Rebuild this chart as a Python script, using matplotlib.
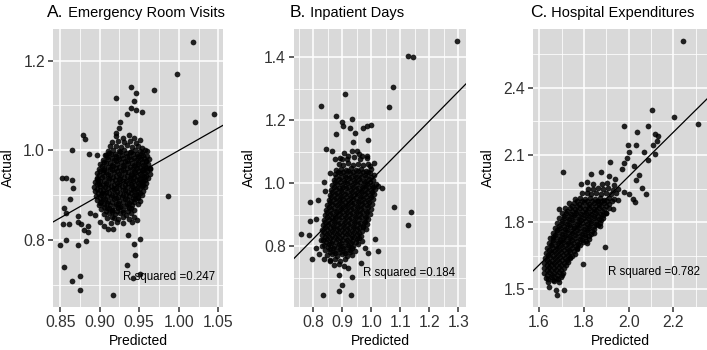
import matplotlib
import matplotlib.pyplot as plt
import numpy as np
from matplotlib.ticker import MultipleLocator, FormatStrFormatter

matplotlib.use('agg')
plt.rcParams['font.family'] = ['Liberation Sans', 'DejaVu Sans']

# (predicted, actual) pairs
er_points = [
    (1.018, 1.242), (0.998, 1.171), (0.969, 1.134), (0.939, 1.141), (0.946, 1.127),
    (0.943, 1.110), (0.921, 1.117), (0.940, 1.095), (0.946, 1.091), (0.953, 1.086),
    (1.045, 1.082), (1.020, 1.063), (0.987, 0.898), (0.879, 1.035), (0.882, 1.026),
    (0.865, 1.000), (0.887, 0.992), (0.896, 0.990), (0.908, 0.989), (0.852, 0.938),
    (0.858, 0.938), (0.865, 0.935), (0.866, 0.916), (0.863, 0.891), (0.855, 0.872),
    (0.858, 0.861), (0.853, 0.837), (0.861, 0.837), (0.872, 0.855), (0.873, 0.842),
    (0.877, 0.837), (0.885, 0.831), (0.880, 0.824), (0.885, 0.819), (0.888, 0.861),
    (0.894, 0.857), (0.901, 0.840), (0.896, 0.937), (0.850, 0.790), (0.857, 0.800),
    (0.872, 0.790), (0.883, 0.798), (0.855, 0.741), (0.865, 0.709), (0.875, 0.720),
    (0.875, 0.689), (0.917, 0.678), (0.934, 0.746), (0.945, 0.768), (0.944, 0.792),
    (0.951, 0.803), (0.936, 0.811), (0.951, 0.725), (0.942, 0.716), (0.910, 0.825),
    (0.917, 0.825), (0.905, 0.831), (0.941, 0.840), (0.947, 0.846), (0.926, 1.063),
    (0.925, 1.050), (0.920, 1.039), (0.934, 1.080), (0.960, 0.998), (0.964, 0.961),
    (0.955, 0.931), (0.944, 0.853), (0.918, 0.850), (0.915, 0.868), (0.901, 0.883),
    (0.903, 0.905), (0.899, 0.926), (0.905, 0.957),
    (0.921, 1.032), (0.929, 1.028), (0.937, 1.034), (0.944, 1.027),
    (0.916, 1.019), (0.923, 1.022), (0.931, 1.018), (0.938, 1.021), (0.946, 1.017), (0.951, 1.023),
    (0.913, 1.009), (0.920, 1.011), (0.927, 1.007), (0.934, 1.012), (0.941, 1.008), (0.948, 1.010),
    (0.954, 1.006),
    (0.910, 0.999), (0.917, 1.002), (0.924, 0.998), (0.931, 1.001), (0.938, 0.997), (0.945, 1.002),
    (0.951, 0.998), (0.957, 1.001),
    (0.907, 0.989), (0.914, 0.992), (0.921, 0.988), (0.928, 0.991), (0.935, 0.987), (0.942, 0.992),
    (0.948, 0.988), (0.955, 0.990), (0.960, 0.987),
    (0.904, 0.979), (0.911, 0.982), (0.918, 0.978), (0.925, 0.981), (0.932, 0.977), (0.939, 0.982),
    (0.946, 0.978), (0.952, 0.981), (0.958, 0.977), (0.962, 0.982),
    (0.901, 0.969), (0.908, 0.972), (0.915, 0.968), (0.922, 0.971), (0.929, 0.967), (0.936, 0.972),
    (0.943, 0.968), (0.949, 0.971), (0.955, 0.967), (0.961, 0.970),
    (0.899, 0.959), (0.906, 0.962), (0.913, 0.958), (0.920, 0.961), (0.927, 0.957), (0.934, 0.962),
    (0.941, 0.958), (0.947, 0.961), (0.953, 0.957), (0.959, 0.960), (0.964, 0.958),
    (0.897, 0.949), (0.904, 0.952), (0.911, 0.948), (0.918, 0.951), (0.925, 0.947), (0.932, 0.952),
    (0.939, 0.948), (0.945, 0.951), (0.951, 0.947), (0.957, 0.950), (0.963, 0.948),
    (0.896, 0.939), (0.903, 0.942), (0.910, 0.938), (0.917, 0.941), (0.924, 0.937), (0.931, 0.942),
    (0.938, 0.938), (0.944, 0.941), (0.950, 0.937), (0.956, 0.940), (0.961, 0.938),
    (0.894, 0.929), (0.901, 0.932), (0.908, 0.928), (0.915, 0.931), (0.922, 0.927), (0.929, 0.932),
    (0.936, 0.928), (0.942, 0.931), (0.948, 0.927), (0.954, 0.930), (0.959, 0.928),
    (0.893, 0.919), (0.900, 0.922), (0.907, 0.918), (0.914, 0.921), (0.921, 0.917), (0.928, 0.922),
    (0.935, 0.918), (0.941, 0.921), (0.947, 0.917), (0.953, 0.920), (0.957, 0.918),
    (0.894, 0.909), (0.901, 0.912), (0.908, 0.908), (0.915, 0.911), (0.922, 0.907), (0.929, 0.912),
    (0.936, 0.908), (0.942, 0.911), (0.948, 0.907), (0.955, 0.910),
    (0.895, 0.899), (0.902, 0.902), (0.909, 0.898), (0.916, 0.901), (0.923, 0.897), (0.930, 0.902),
    (0.937, 0.898), (0.943, 0.901), (0.949, 0.897), (0.954, 0.900),
    (0.897, 0.889), (0.904, 0.892), (0.911, 0.888), (0.918, 0.891), (0.925, 0.887), (0.932, 0.892),
    (0.939, 0.888), (0.945, 0.891), (0.951, 0.887),
    (0.899, 0.879), (0.906, 0.882), (0.913, 0.878), (0.920, 0.881), (0.927, 0.877), (0.934, 0.882),
    (0.941, 0.878), (0.948, 0.880),
    (0.902, 0.869), (0.909, 0.872), (0.916, 0.868), (0.923, 0.871), (0.930, 0.867), (0.937, 0.872),
    (0.944, 0.868),
    (0.905, 0.859), (0.912, 0.862), (0.919, 0.858), (0.926, 0.861), (0.933, 0.857), (0.940, 0.862),
    (0.909, 0.849), (0.916, 0.852), (0.923, 0.848), (0.930, 0.851), (0.937, 0.847),
    (0.914, 0.839), (0.922, 0.842), (0.929, 0.838),
]

# extra points filling the dense middle of panel A
er_dense = [
    (0.912, 0.995), (0.919, 0.993), (0.926, 0.996), (0.933, 0.994), (0.940, 0.996), (0.947, 0.993),
    (0.953, 0.995),
    (0.909, 0.985), (0.916, 0.983), (0.923, 0.986), (0.930, 0.984), (0.937, 0.986), (0.944, 0.983),
    (0.950, 0.985), (0.956, 0.984),
    (0.906, 0.975), (0.913, 0.973), (0.920, 0.976), (0.927, 0.974), (0.934, 0.976), (0.941, 0.973),
    (0.948, 0.975), (0.954, 0.974), (0.959, 0.976),
    (0.903, 0.965), (0.910, 0.963), (0.917, 0.966), (0.924, 0.964), (0.931, 0.966), (0.938, 0.963),
    (0.945, 0.965), (0.951, 0.964), (0.957, 0.966),
    (0.901, 0.955), (0.908, 0.953), (0.915, 0.956), (0.922, 0.954), (0.929, 0.956), (0.936, 0.953),
    (0.943, 0.955), (0.949, 0.954), (0.955, 0.956), (0.960, 0.954),
    (0.899, 0.945), (0.906, 0.943), (0.913, 0.946), (0.920, 0.944), (0.927, 0.946), (0.934, 0.943),
    (0.941, 0.945), (0.947, 0.944), (0.953, 0.946), (0.959, 0.944),
    (0.898, 0.935), (0.905, 0.933), (0.912, 0.936), (0.919, 0.934), (0.926, 0.936), (0.933, 0.933),
    (0.940, 0.935), (0.946, 0.934), (0.952, 0.936), (0.957, 0.934),
    (0.897, 0.925), (0.904, 0.923), (0.911, 0.926), (0.918, 0.924), (0.925, 0.926), (0.932, 0.923),
    (0.939, 0.925), (0.945, 0.924), (0.951, 0.926), (0.955, 0.924),
    (0.897, 0.915), (0.904, 0.913), (0.911, 0.916), (0.918, 0.914), (0.925, 0.916), (0.932, 0.913),
    (0.939, 0.915), (0.945, 0.914), (0.951, 0.916),
    (0.898, 0.905), (0.905, 0.903), (0.912, 0.906), (0.919, 0.904), (0.926, 0.906), (0.933, 0.903),
    (0.940, 0.905), (0.946, 0.904), (0.951, 0.906),
    (0.900, 0.895), (0.907, 0.893), (0.914, 0.896), (0.921, 0.894), (0.928, 0.896), (0.935, 0.893),
    (0.942, 0.895), (0.948, 0.894),
    (0.902, 0.885), (0.909, 0.883), (0.916, 0.886), (0.923, 0.884), (0.930, 0.886), (0.937, 0.883),
    (0.944, 0.885),
    (0.905, 0.875), (0.912, 0.873), (0.919, 0.876), (0.926, 0.874), (0.933, 0.876), (0.940, 0.873),
    (0.908, 0.865), (0.915, 0.863), (0.922, 0.866), (0.929, 0.864), (0.936, 0.866),
]

ip_points = [
    (1.294, 1.451), (1.125, 1.405), (1.145, 1.402), (1.076, 1.306), (1.062, 1.243),
    (0.826, 1.246), (0.909, 1.285), (0.880, 1.214), (0.900, 1.195), (0.934, 1.203),
    (0.903, 1.182), (0.926, 1.177), (0.877, 1.156), (0.984, 1.182), (0.999, 1.187),
    (0.972, 1.177), (0.944, 1.161), (0.936, 1.131), (0.987, 1.138), (0.844, 1.110),
    (0.863, 1.103), (1.079, 0.925), (1.137, 0.909), (1.125, 0.867), (1.024, 0.787),
    (0.757, 0.840), (0.786, 0.837), (0.790, 0.880), (0.809, 0.887), (0.789, 0.940),
    (0.815, 0.949), (0.838, 1.004), (0.794, 0.760), (0.820, 0.777), (0.838, 0.761),
    (0.857, 0.754), (0.834, 0.646), (0.889, 0.660), (0.930, 0.646), (0.900, 0.678),
    (0.889, 0.710), (0.932, 0.704), (0.921, 0.731), (0.964, 0.749), (0.990, 0.779),
    (0.978, 0.795), (1.013, 0.823), (1.024, 0.991), (1.036, 0.986), (0.995, 1.055),
    (1.010, 1.065), (0.967, 1.087), (0.984, 1.087), (0.949, 1.103), (0.921, 1.087),
    (0.898, 1.076), (0.875, 1.076), (0.859, 1.034), (0.840, 0.975), (0.826, 0.821),
    (0.811, 0.795), (0.831, 0.800),
    (0.905, 1.098), (0.932, 1.104), (0.958, 1.095),
    (0.893, 1.082), (0.915, 1.078), (0.940, 1.084), (0.962, 1.077), (0.985, 1.081),
    (0.887, 1.061), (0.904, 1.058), (0.921, 1.064), (0.938, 1.057), (0.955, 1.062), (0.972, 1.058),
    (0.990, 1.063),
    (0.880, 1.044), (0.897, 1.047), (0.914, 1.042), (0.931, 1.048), (0.948, 1.043), (0.965, 1.046),
    (0.982, 1.041), (0.999, 1.046),
    (0.876, 1.029), (0.893, 1.032), (0.910, 1.027), (0.927, 1.033), (0.944, 1.028), (0.961, 1.031),
    (0.978, 1.026), (0.995, 1.032), (1.008, 1.027),
    (0.872, 1.012), (0.889, 1.015), (0.906, 1.010), (0.923, 1.016), (0.940, 1.011), (0.957, 1.014),
    (0.974, 1.009), (0.991, 1.015), (1.006, 1.011),
    (0.866, 0.996), (0.883, 0.999), (0.900, 0.994), (0.917, 1.000), (0.934, 0.995), (0.951, 0.998),
    (0.968, 0.993), (0.985, 0.999), (1.002, 0.994), (1.015, 0.998),
    (0.862, 0.980), (0.879, 0.983), (0.896, 0.978), (0.913, 0.984), (0.930, 0.979), (0.947, 0.982),
    (0.964, 0.977), (0.981, 0.983), (0.998, 0.978), (1.012, 0.982),
    (0.858, 0.964), (0.875, 0.967), (0.892, 0.962), (0.909, 0.968), (0.926, 0.963), (0.943, 0.966),
    (0.960, 0.961), (0.977, 0.967), (0.994, 0.962), (1.010, 0.966),
    (0.853, 0.948), (0.870, 0.951), (0.887, 0.946), (0.904, 0.952), (0.921, 0.947), (0.938, 0.950),
    (0.955, 0.945), (0.972, 0.951), (0.989, 0.946), (1.006, 0.950),
    (0.849, 0.932), (0.866, 0.935), (0.883, 0.930), (0.900, 0.936), (0.917, 0.931), (0.934, 0.934),
    (0.951, 0.929), (0.968, 0.935), (0.985, 0.930), (1.002, 0.934),
    (0.845, 0.916), (0.862, 0.919), (0.879, 0.914), (0.896, 0.920), (0.913, 0.915), (0.930, 0.918),
    (0.947, 0.913), (0.964, 0.919), (0.981, 0.914), (0.998, 0.918),
    (0.841, 0.900), (0.858, 0.903), (0.875, 0.898), (0.892, 0.904), (0.909, 0.899), (0.926, 0.902),
    (0.943, 0.897), (0.960, 0.903), (0.977, 0.898), (0.994, 0.902),
    (0.838, 0.884), (0.855, 0.887), (0.872, 0.882), (0.889, 0.888), (0.906, 0.883), (0.923, 0.886),
    (0.940, 0.881), (0.957, 0.887), (0.974, 0.882), (0.990, 0.886),
    (0.834, 0.868), (0.851, 0.871), (0.868, 0.866), (0.885, 0.872), (0.902, 0.867), (0.919, 0.870),
    (0.936, 0.865), (0.953, 0.871), (0.970, 0.866), (0.986, 0.870),
    (0.831, 0.852), (0.848, 0.855), (0.865, 0.850), (0.882, 0.856), (0.899, 0.851), (0.916, 0.854),
    (0.933, 0.849), (0.950, 0.855), (0.967, 0.850), (0.982, 0.854),
    (0.830, 0.836), (0.847, 0.839), (0.864, 0.834), (0.881, 0.840), (0.898, 0.835), (0.915, 0.838),
    (0.932, 0.833), (0.949, 0.839), (0.966, 0.834),
    (0.832, 0.820), (0.849, 0.823), (0.866, 0.818), (0.883, 0.824), (0.900, 0.819), (0.917, 0.822),
    (0.934, 0.817), (0.951, 0.823), (0.968, 0.818),
    (0.836, 0.804), (0.853, 0.807), (0.870, 0.802), (0.887, 0.808), (0.904, 0.803), (0.921, 0.806),
    (0.938, 0.801), (0.955, 0.807),
    (0.842, 0.788), (0.859, 0.791), (0.876, 0.786), (0.893, 0.792), (0.910, 0.787), (0.927, 0.790),
    (0.944, 0.785),
    (0.849, 0.772), (0.866, 0.775), (0.883, 0.770), (0.900, 0.776), (0.917, 0.771), (0.934, 0.774),
    (0.858, 0.756), (0.875, 0.759), (0.892, 0.754), (0.909, 0.760),
    (0.870, 0.740), (0.890, 0.743), (0.905, 0.738),
]

ip_dense = [
    (0.885, 1.037), (0.902, 1.035), (0.919, 1.038), (0.936, 1.036), (0.953, 1.038), (0.970, 1.035),
    (0.987, 1.037),
    (0.880, 1.021), (0.897, 1.019), (0.914, 1.022), (0.931, 1.020), (0.948, 1.022), (0.965, 1.019),
    (0.982, 1.021), (0.999, 1.020),
    (0.875, 1.005), (0.892, 1.003), (0.909, 1.006), (0.926, 1.004), (0.943, 1.006), (0.960, 1.003),
    (0.977, 1.005), (0.994, 1.004),
    (0.870, 0.989), (0.887, 0.987), (0.904, 0.990), (0.921, 0.988), (0.938, 0.990), (0.955, 0.987),
    (0.972, 0.989), (0.989, 0.988), (1.005, 0.990),
    (0.866, 0.973), (0.883, 0.971), (0.900, 0.974), (0.917, 0.972), (0.934, 0.974), (0.951, 0.971),
    (0.968, 0.973), (0.985, 0.972), (1.002, 0.974),
    (0.862, 0.957), (0.879, 0.955), (0.896, 0.958), (0.913, 0.956), (0.930, 0.958), (0.947, 0.955),
    (0.964, 0.957), (0.981, 0.956), (0.998, 0.958),
    (0.857, 0.941), (0.874, 0.939), (0.891, 0.942), (0.908, 0.940), (0.925, 0.942), (0.942, 0.939),
    (0.959, 0.941), (0.976, 0.940), (0.993, 0.942),
    (0.853, 0.925), (0.870, 0.923), (0.887, 0.926), (0.904, 0.924), (0.921, 0.926), (0.938, 0.923),
    (0.955, 0.925), (0.972, 0.924), (0.989, 0.926),
    (0.849, 0.909), (0.866, 0.907), (0.883, 0.910), (0.900, 0.908), (0.917, 0.910), (0.934, 0.907),
    (0.951, 0.909), (0.968, 0.908), (0.985, 0.910),
    (0.846, 0.893), (0.863, 0.891), (0.880, 0.894), (0.897, 0.892), (0.914, 0.894), (0.931, 0.891),
    (0.948, 0.893), (0.965, 0.892), (0.981, 0.894),
    (0.842, 0.877), (0.859, 0.875), (0.876, 0.878), (0.893, 0.876), (0.910, 0.878), (0.927, 0.875),
    (0.944, 0.877), (0.961, 0.876), (0.977, 0.878),
    (0.839, 0.861), (0.856, 0.859), (0.873, 0.862), (0.890, 0.860), (0.907, 0.862), (0.924, 0.859),
    (0.941, 0.861), (0.958, 0.860), (0.973, 0.862),
    (0.838, 0.845), (0.855, 0.843), (0.872, 0.846), (0.889, 0.844), (0.906, 0.846), (0.923, 0.843),
    (0.940, 0.845), (0.957, 0.844),
    (0.840, 0.829), (0.857, 0.827), (0.874, 0.830), (0.891, 0.828), (0.908, 0.830), (0.925, 0.827),
    (0.942, 0.829), (0.958, 0.828),
    (0.844, 0.813), (0.861, 0.811), (0.878, 0.814), (0.895, 0.812), (0.912, 0.814), (0.929, 0.811),
    (0.946, 0.813),
    (0.850, 0.797), (0.867, 0.795), (0.884, 0.798), (0.901, 0.796), (0.918, 0.798), (0.935, 0.795),
    (0.857, 0.781), (0.874, 0.779), (0.891, 0.782), (0.908, 0.780), (0.925, 0.782),
]

hx_points = [
    (2.242, 2.606), (2.203, 2.269), (2.312, 2.236), (2.103, 2.299), (1.979, 2.228),
    (2.036, 2.203), (2.088, 2.228), (1.707, 2.024), (2.118, 2.194), (2.133, 2.184),
    (2.125, 2.161), (2.107, 2.146), (2.069, 2.113), (2.118, 2.106), (2.085, 2.079),
    (2.033, 2.143), (1.999, 2.146), (2.003, 2.112), (1.991, 2.087), (2.024, 2.049),
    (1.979, 2.064), (1.969, 2.037), (2.033, 1.987), (2.058, 1.952), (2.076, 1.925),
    (1.981, 1.933), (2.003, 1.925), (2.021, 1.903), (2.028, 1.888), (2.048, 2.009),
    (1.916, 2.067), (1.876, 2.022), (1.831, 2.016), (1.812, 1.978), (1.785, 1.970),
    (1.939, 1.993), (1.913, 2.004), (1.894, 1.691), (1.797, 1.612), (1.675, 1.497),
    (1.712, 1.497), (1.681, 1.475), (1.643, 1.512), (1.690, 1.858), (1.663, 1.736),
    (1.812, 1.706), (1.845, 1.751), (1.872, 1.784), (1.901, 1.840), (1.864, 1.893),
    (1.954, 1.900), (1.931, 1.858), (1.767, 1.684), (1.737, 1.639),
    (1.840, 1.972), (1.880, 1.968), (1.905, 1.975), (1.935, 1.965),
    (1.820, 1.950), (1.842, 1.946), (1.864, 1.952), (1.886, 1.947), (1.908, 1.951), (1.930, 1.945),
    (1.952, 1.949),
    (1.790, 1.928), (1.812, 1.931), (1.834, 1.926), (1.856, 1.932), (1.878, 1.927), (1.900, 1.930),
    (1.922, 1.925), (1.944, 1.929),
    (1.760, 1.904), (1.782, 1.908), (1.804, 1.902), (1.826, 1.909), (1.848, 1.903), (1.870, 1.907),
    (1.892, 1.901), (1.914, 1.906), (1.936, 1.902),
    (1.735, 1.884), (1.757, 1.887), (1.779, 1.882), (1.801, 1.888), (1.823, 1.883), (1.845, 1.886),
    (1.867, 1.881), (1.889, 1.887), (1.911, 1.882),
    (1.715, 1.861), (1.737, 1.864), (1.759, 1.859), (1.781, 1.865), (1.803, 1.860), (1.825, 1.863),
    (1.847, 1.858), (1.869, 1.864), (1.891, 1.859), (1.910, 1.862),
    (1.700, 1.839), (1.722, 1.842), (1.744, 1.837), (1.766, 1.843), (1.788, 1.838), (1.810, 1.841),
    (1.832, 1.836), (1.854, 1.842), (1.876, 1.837), (1.898, 1.840),
    (1.690, 1.817), (1.712, 1.820), (1.734, 1.815), (1.756, 1.821), (1.778, 1.816), (1.800, 1.819),
    (1.822, 1.814), (1.844, 1.820), (1.866, 1.815), (1.886, 1.818),
    (1.680, 1.795), (1.702, 1.798), (1.724, 1.793), (1.746, 1.799), (1.768, 1.794), (1.790, 1.797),
    (1.812, 1.792), (1.834, 1.798), (1.856, 1.793), (1.874, 1.796),
    (1.670, 1.773), (1.692, 1.776), (1.714, 1.771), (1.736, 1.777), (1.758, 1.772), (1.780, 1.775),
    (1.802, 1.770), (1.824, 1.776), (1.846, 1.771),
    (1.660, 1.751), (1.682, 1.754), (1.704, 1.749), (1.726, 1.755), (1.748, 1.750), (1.770, 1.753),
    (1.792, 1.748), (1.814, 1.754), (1.834, 1.749),
    (1.650, 1.729), (1.672, 1.732), (1.694, 1.727), (1.716, 1.733), (1.738, 1.728), (1.760, 1.731),
    (1.782, 1.726), (1.804, 1.732), (1.822, 1.727),
    (1.642, 1.707), (1.664, 1.710), (1.686, 1.705), (1.708, 1.711), (1.730, 1.706), (1.752, 1.709),
    (1.774, 1.704), (1.796, 1.710),
    (1.635, 1.685), (1.657, 1.688), (1.679, 1.683), (1.701, 1.689), (1.723, 1.684), (1.745, 1.687),
    (1.767, 1.682),
    (1.630, 1.663), (1.652, 1.666), (1.674, 1.661), (1.696, 1.667), (1.718, 1.662), (1.740, 1.665),
    (1.760, 1.660),
    (1.626, 1.641), (1.648, 1.644), (1.670, 1.639), (1.692, 1.645), (1.714, 1.640), (1.736, 1.643),
    (1.623, 1.619), (1.645, 1.622), (1.667, 1.617), (1.689, 1.623), (1.711, 1.618), (1.730, 1.621),
    (1.622, 1.597), (1.644, 1.600), (1.666, 1.595), (1.688, 1.601), (1.710, 1.596),
    (1.624, 1.575), (1.646, 1.578), (1.668, 1.573), (1.690, 1.579), (1.708, 1.574),
    (1.630, 1.553), (1.652, 1.556), (1.674, 1.551), (1.696, 1.557),
    (1.640, 1.534), (1.665, 1.537), (1.688, 1.532),
]

hx_dense = [
    (1.770, 1.895), (1.792, 1.893), (1.814, 1.896), (1.836, 1.894), (1.858, 1.896), (1.880, 1.893),
    (1.902, 1.895), (1.924, 1.894),
    (1.746, 1.873), (1.768, 1.871), (1.790, 1.874), (1.812, 1.872), (1.834, 1.874), (1.856, 1.871),
    (1.878, 1.873), (1.900, 1.872),
    (1.726, 1.851), (1.748, 1.849), (1.770, 1.852), (1.792, 1.850), (1.814, 1.852), (1.836, 1.849),
    (1.858, 1.851), (1.880, 1.850),
    (1.711, 1.829), (1.733, 1.827), (1.755, 1.830), (1.777, 1.828), (1.799, 1.830), (1.821, 1.827),
    (1.843, 1.829), (1.865, 1.828), (1.887, 1.830),
    (1.701, 1.807), (1.723, 1.805), (1.745, 1.808), (1.767, 1.806), (1.789, 1.808), (1.811, 1.805),
    (1.833, 1.807), (1.855, 1.806), (1.876, 1.808),
    (1.691, 1.785), (1.713, 1.783), (1.735, 1.786), (1.757, 1.784), (1.779, 1.786), (1.801, 1.783),
    (1.823, 1.785), (1.845, 1.784), (1.864, 1.786),
    (1.681, 1.763), (1.703, 1.761), (1.725, 1.764), (1.747, 1.762), (1.769, 1.764), (1.791, 1.761),
    (1.813, 1.763), (1.835, 1.762),
    (1.671, 1.741), (1.693, 1.739), (1.715, 1.742), (1.737, 1.740), (1.759, 1.742), (1.781, 1.739),
    (1.803, 1.741), (1.823, 1.740),
    (1.661, 1.719), (1.683, 1.717), (1.705, 1.720), (1.727, 1.718), (1.749, 1.720), (1.771, 1.717),
    (1.793, 1.719), (1.810, 1.718),
    (1.653, 1.697), (1.675, 1.695), (1.697, 1.698), (1.719, 1.696), (1.741, 1.698), (1.763, 1.695),
    (1.783, 1.697),
    (1.646, 1.675), (1.668, 1.673), (1.690, 1.676), (1.712, 1.674), (1.734, 1.676), (1.754, 1.673),
    (1.641, 1.653), (1.663, 1.651), (1.685, 1.654), (1.707, 1.652), (1.729, 1.654), (1.748, 1.651),
    (1.637, 1.631), (1.659, 1.629), (1.681, 1.632), (1.703, 1.630), (1.723, 1.632),
    (1.633, 1.609), (1.655, 1.607), (1.677, 1.610), (1.699, 1.608), (1.719, 1.610),
    (1.633, 1.587), (1.655, 1.585), (1.677, 1.588), (1.699, 1.586),
    (1.635, 1.565), (1.657, 1.563), (1.679, 1.566), (1.700, 1.564),
    (1.641, 1.545), (1.663, 1.543), (1.685, 1.546),
]

# fitted lines (intercept, slope) and R squared
er_fit = (0.0, 1.0)
ip_fit = (0.076, 0.935)
hx_fit = (0.030, 0.987)
r_squared = [0.247, 0.184, 0.782]

letters = ["A.", "B.", "C."]
titles = ["Emergency Room Visits", "Inpatient Days", "Hospital Expenditures"]

panels = [
    dict(points=er_points + er_dense, fit=er_fit, xlim=(0.841, 1.056), ylim=(0.652, 1.27),
         xmaj=0.05, xmin=0.025, ymaj=0.2, ymin=0.1, xfmt='%.2f', yfmt='%.1f',
         rect=[0.075, 0.123, 0.2405, 0.794], title_x=0.0665, rpos=(0.988, 0.718)),
    dict(points=ip_points + ip_dense, fit=ip_fit, xlim=(0.734, 1.326), ylim=(0.608, 1.49),
         xmaj=0.1, xmin=0.05, ymaj=0.2, ymin=0.1, xfmt='%.1f', yfmt='%.1f',
         rect=[0.416, 0.123, 0.243, 0.794], title_x=0.410, rpos=(1.130, 0.715)),
    dict(points=hx_points + hx_dense, fit=hx_fit, xlim=(1.573, 2.35), ylim=(1.422, 2.661),
         xmaj=0.2, xmin=0.1, ymaj=0.3, ymin=0.15, xfmt='%.1f', yfmt='%.1f',
         rect=[0.754, 0.123, 0.246, 0.794], title_x=0.7497, rpos=(2.113, 1.579)),
]

fig = plt.figure(figsize=(7.07, 3.5), dpi=100)

for i, p in enumerate(panels):
    ax = fig.add_axes(p['rect'])
    ax.set_facecolor('#D9D9D9')
    for s in ax.spines.values():
        s.set_visible(False)
    ax.set_xlim(p['xlim'])
    ax.set_ylim(p['ylim'])
    ax.xaxis.set_major_locator(MultipleLocator(p['xmaj']))
    ax.xaxis.set_minor_locator(MultipleLocator(p['xmin']))
    ax.yaxis.set_major_locator(MultipleLocator(p['ymaj']))
    ax.yaxis.set_minor_locator(MultipleLocator(p['ymin']))
    ax.xaxis.set_major_formatter(FormatStrFormatter(p['xfmt']))
    ax.yaxis.set_major_formatter(FormatStrFormatter(p['yfmt']))
    ax.grid(True, which='major', color='white', linewidth=1.1)
    ax.grid(True, which='minor', color='white', linewidth=0.55)
    ax.set_axisbelow(True)
    ax.tick_params(which='major', length=3.3, width=1.1, color='#333333',
                   labelsize=11.3, labelcolor='#333333', pad=2.5)
    ax.tick_params(which='minor', length=0)

    pts = np.array(p['points'])
    ax.scatter(pts[:, 0], pts[:, 1], s=17, color='black', alpha=0.85, linewidths=0)

    b0, b1 = p['fit']
    xs = np.array(p['xlim'])
    ax.plot(xs, b0 + b1 * xs, color='black', linewidth=0.9)

    ax.text(p['rpos'][0], p['rpos'][1], 'R squared =%.3f' % r_squared[i],
            ha='center', va='center', fontsize=8.3, color='black')

    w = p['rect'][2] * 707
    h = p['rect'][3] * 350
    ax.text(-45 / w, 0.5, 'Actual', transform=ax.transAxes, rotation=90,
            ha='center', va='center', fontsize=10)
    ax.text(0.5, -34 / h, 'Predicted', transform=ax.transAxes,
            ha='center', va='center', fontsize=10)

    t1 = fig.text(p['title_x'], 0.951, letters[i], fontsize=12.5, va='baseline')
    ax.annotate(' ' + titles[i], xy=(1, 0), xycoords=t1, fontsize=10.5,
                va='bottom', ha='left', annotation_clip=False)

fig.savefig('out.png', dpi=100)
plt.close()
